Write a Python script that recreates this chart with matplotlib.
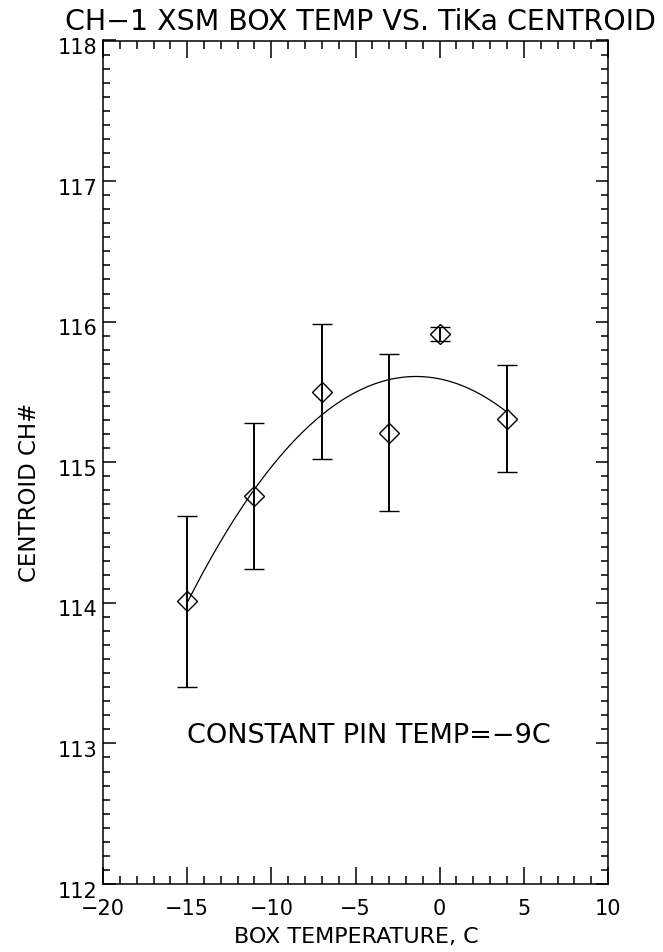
import numpy as np
import matplotlib
matplotlib.use("Agg")
import matplotlib.pyplot as plt
from matplotlib.ticker import MultipleLocator
from matplotlib.transforms import ScaledTranslation

# Box temperature (C) and TiKa centroid channel with 1-sigma errors
box_temp = [-15, -11, -7, -3, 0, 4]
centroid = [114.01, 114.76, 115.50, 115.21, 115.91, 115.31]
centroid_err = [0.61, 0.52, 0.48, 0.56, 0.05, 0.38]

# Quadratic trend (a*x^2 + b*x + c) over the measured range
fit_coeffs = [-0.0087, -0.02436, 115.593]
fit_range = [-15, 4]

x_ticks = [-20, -15, -10, -5, 0, 5, 10]
y_ticks = [112, 113, 114, 115, 116, 117, 118]

title = "CH\u22121 XSM BOX TEMP VS. TiKa CENTROID"
x_label = "BOX TEMPERATURE, C"
y_label = "CENTROID CH#"
note = "CONSTANT PIN TEMP=\u22129C"

W, H = 663, 952
fig = plt.figure(figsize=(W / 100, H / 100), dpi=100)
ax = fig.add_axes([103 / W, 1 - 884 / H, (608 - 103) / W, (884 - 40.5) / H])

font = dict(family=["DejaVu Sans"])

ax.errorbar(box_temp, centroid, yerr=centroid_err, fmt="D", ms=10.5,
            mfc="none", mec="black", mew=1.0, ecolor="black",
            elinewidth=1.4, capsize=7, capthick=1.4, color="black")

xs = np.linspace(fit_range[0], fit_range[1], 200)
ax.plot(xs, np.polyval(fit_coeffs, xs), color="black", lw=0.9)

ax.text(-15, 113.05, note, ha="left", va="center", fontsize=19.5, **font)

ax.set_xlim(x_ticks[0], x_ticks[-1])
ax.set_ylim(y_ticks[0], y_ticks[-1])
ax.set_xticks(x_ticks)
ax.set_yticks(y_ticks)
ax.set_xticklabels([str(t).replace("-", "\u2212") for t in x_ticks], fontsize=15, **font)
ax.set_yticklabels([str(t) for t in y_ticks], fontsize=15, **font)
ax.xaxis.set_minor_locator(MultipleLocator(1))
ax.yaxis.set_minor_locator(MultipleLocator(0.1))
ax.tick_params(axis="x", which="major", direction="in", length=12, width=1.1,
               top=True, bottom=True, pad=11)
ax.tick_params(axis="x", which="minor", direction="in", length=6, width=1.1,
               top=True, bottom=True)
ax.tick_params(axis="y", which="major", direction="in", length=9, width=1.1,
               left=True, right=True, pad=4)
ax.tick_params(axis="y", which="minor", direction="in", length=5, width=1.1,
               left=True, right=True)
for s in ax.spines.values():
    s.set_linewidth(1.1)

# y tick labels sit slightly below their tick marks
shift = ScaledTranslation(0, -4 / 72, fig.dpi_scale_trans)
for lbl in ax.get_yticklabels():
    lbl.set_transform(lbl.get_transform() + shift)

fig.text(360 / W, 1 - 22 / H, title, ha="center", va="center", fontsize=20.5, **font)
fig.text(356 / W, 1 - 937 / H, x_label, ha="center", va="center", fontsize=16, **font)
fig.text(30 / W, 1 - 492 / H, y_label, ha="center", va="center", rotation=90,
         fontsize=16.5, **font)

fig.savefig("out.png", dpi=100, facecolor="white")
